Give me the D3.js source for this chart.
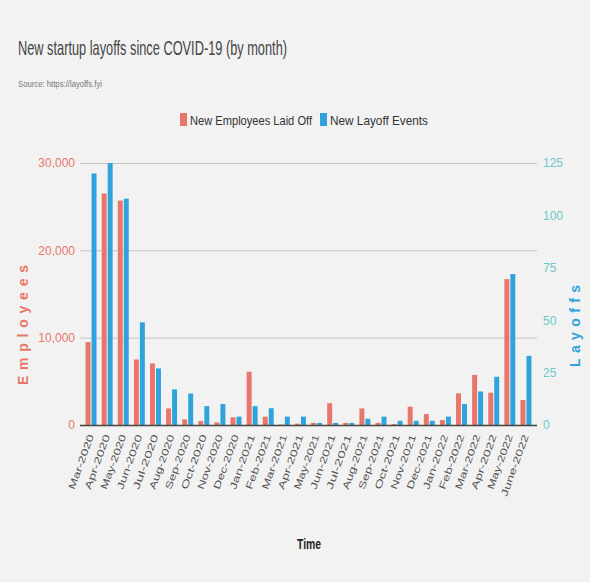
<!DOCTYPE html>
<html>
<head>
<meta charset="utf-8">
<script src="https://cdn.jsdelivr.net/npm/d3@7"></script>
<style>
  html, body { margin: 0; padding: 0; background: #f2f2f2; }
  svg { display: block; }
  text { font-family: "Liberation Sans", Arial, sans-serif; }
</style>
</head>
<body>
<svg id="chart" width="590" height="582"></svg>
<script>
const months = ["Mar-2020","Apr-2020","May-2020","Jun-2020","Jul-2020","Aug-2020","Sep-2020","Oct-2020","Nov-2020","Dec-2020",
  "Jan-2021","Feb-2021","Mar-2021","Apr-2021","May-2021","Jun-2021","Jul-2021","Aug-2021","Sep-2021","Oct-2021","Nov-2021","Dec-2021",
  "Jan-2022","Feb-2022","Mar-2022","Apr-2022","May-2022","June-2022"];
const employeesLaidOff = [9500, 26500, 25700, 7500, 7050, 1900, 650, 450, 300, 880,
  6100, 950, 50, 150, 250, 2500, 250, 1900, 250, 100, 2100, 1250,
  570, 3630, 5730, 3700, 16700, 2860];
const layoffEvents = [120, 125, 108, 49, 27, 17, 15, 9, 10, 4,
  9, 8, 4, 4, 1, 1, 1, 3, 4, 2, 2, 2,
  4, 10, 16, 23, 72, 33];
const leftTicks = [0, 10000, 20000, 30000];
const rightTicks = [0, 25, 50, 75, 100, 125];
const seriesNames = ["New Employees Laid Off", "New Layoff Events"];

const RED = "#e8766b", BLUE = "#2fa3dc", TEAL = "#6cc9c6";
const svg = d3.select("#chart");

const x0 = d3.scaleBand().domain(months).range([83, 534]).padding(0);
const x1 = d3.scaleBand().domain(["emp", "evt"]).range([0, x0.bandwidth()]).paddingInner(0.17).paddingOuter(0.43);
const yL = d3.scaleLinear().domain([0, 30000]).range([425, 163]);
const yR = d3.scaleLinear().domain([0, 125]).range([425, 163]);

// Title
svg.append("text").attr("x", 18).attr("y", 55).attr("font-size", 21).attr("fill", "#444")
  .attr("textLength", 269).attr("lengthAdjust", "spacingAndGlyphs")
  .text("New startup layoffs since COVID-19 (by month)");
svg.append("text").attr("x", 18).attr("y", 87).attr("font-size", 9).attr("fill", "#777")
  .attr("textLength", 84).attr("lengthAdjust", "spacingAndGlyphs")
  .text("Source: https://layoffs.fyi");

// Legend
const legend = [
  {name: seriesNames[0], color: RED, sx: 180, tx: 190, tl: 122},
  {name: seriesNames[1], color: BLUE, sx: 320, tx: 330, tl: 98}
];
legend.forEach(l => {
  svg.append("rect").attr("x", l.sx).attr("y", 113).attr("width", 7).attr("height", 13).attr("fill", l.color);
  svg.append("text").attr("x", l.tx).attr("y", 125).attr("font-size", 13).attr("fill", "#333")
    .attr("textLength", l.tl).attr("lengthAdjust", "spacingAndGlyphs").text(l.name);
});

// Gridlines (left axis)
svg.append("g").selectAll("line").data(leftTicks.filter(d => d > 0)).join("line")
  .attr("x1", 80).attr("x2", 537).attr("y1", d => yL(d) + 0.5).attr("y2", d => yL(d) + 0.5)
  .attr("stroke", "#c4c4c4").attr("stroke-width", 1);

// Left axis
const gL = svg.append("g").attr("transform", "translate(80,0)")
  .call(d3.axisLeft(yL).tickValues(leftTicks).tickFormat(d3.format(",")).tickSize(0).tickPadding(5));
gL.select(".domain").remove();
gL.selectAll("text").attr("font-size", 12).attr("fill", RED)
  .attr("font-family", "'Liberation Sans Narrow', 'DejaVu Sans Condensed', sans-serif");

// Right axis
const gR = svg.append("g").attr("transform", "translate(537,0)")
  .call(d3.axisRight(yR).tickValues(rightTicks).tickSize(0).tickPadding(6));
gR.select(".domain").remove();
gR.selectAll("text").attr("font-size", 12).attr("fill", TEAL)
  .attr("font-family", "'Liberation Sans Narrow', 'DejaVu Sans Condensed', sans-serif");

// Bars
const groups = svg.append("g").selectAll("g").data(months).join("g")
  .attr("transform", d => `translate(${x0(d)},0)`);
groups.append("rect")
  .attr("x", x1("emp")).attr("width", x1.bandwidth())
  .attr("y", (d, i) => yL(employeesLaidOff[i]))
  .attr("height", (d, i) => yL(0) - yL(employeesLaidOff[i]))
  .attr("fill", RED);
groups.append("rect")
  .attr("x", x1("evt")).attr("width", x1.bandwidth())
  .attr("y", (d, i) => yR(layoffEvents[i]))
  .attr("height", (d, i) => yR(0) - yR(layoffEvents[i]))
  .attr("fill", BLUE);

// X axis
const gX = svg.append("g").attr("transform", "translate(0,425)")
  .call(d3.axisBottom(x0).tickSize(0).tickPadding(0));
gX.select(".domain").attr("d", "M80,0.5H537").attr("stroke", "#444").attr("stroke-width", 1.5);
gX.selectAll("text")
  .attr("font-size", 9.5).attr("fill", "#555")
  .attr("text-anchor", "end").attr("dy", 0).attr("y", 0).attr("x", 0)
  .attr("textLength", d => d.length * 7.2).attr("lengthAdjust", "spacingAndGlyphs")
  .attr("transform", "translate(3,11) rotate(-70)");

// Axis titles
svg.append("text").attr("transform", "translate(28,325) rotate(-90)")
  .attr("text-anchor", "middle").attr("font-size", 14).attr("font-weight", "bold")
  .attr("fill", RED).attr("textLength", 120).attr("lengthAdjust", "spacing").text("Employees");
svg.append("text").attr("transform", "translate(580,326) rotate(-90)")
  .attr("text-anchor", "middle").attr("font-size", 14).attr("font-weight", "bold")
  .attr("fill", BLUE).attr("textLength", 82).attr("lengthAdjust", "spacing").text("Layoffs");
svg.append("text").attr("x", 309).attr("y", 549).attr("text-anchor", "middle")
  .attr("font-size", 15).attr("font-weight", "bold").attr("fill", "#222")
  .attr("textLength", 24).attr("lengthAdjust", "spacingAndGlyphs").text("Time");
</script>
</body>
</html>
